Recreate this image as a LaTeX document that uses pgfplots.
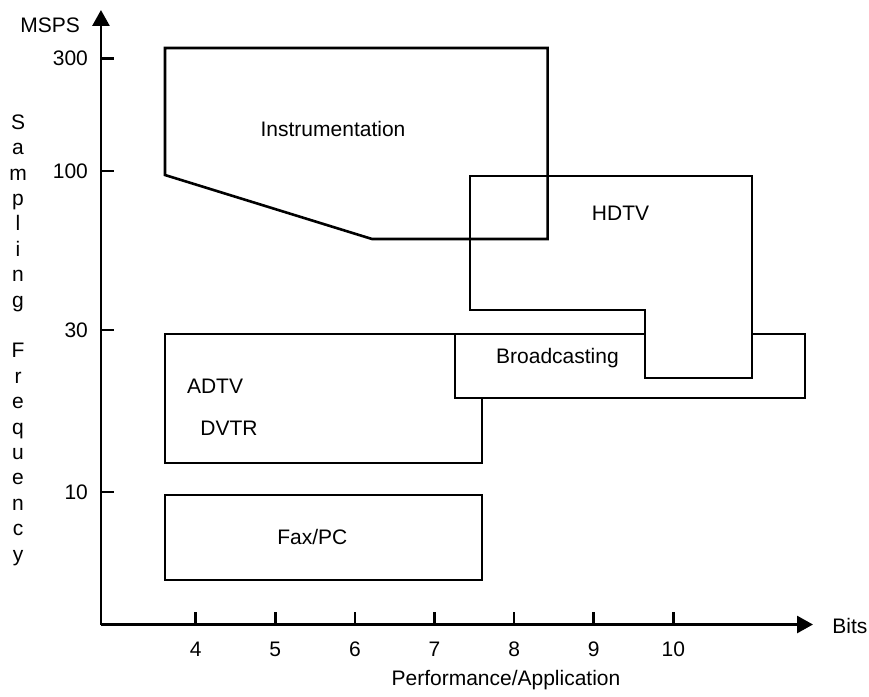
\documentclass[border=0pt]{standalone}
\usepackage{fontspec}
\setmainfont{Liberation Sans}
\usepackage{pgfplots}
\pgfplotsset{compat=1.18}
\usetikzlibrary{arrows.meta}

\begin{document}
\begin{tikzpicture}[font=\fontsize{10.5}{12.6}\selectfont,
  region/.style={black, line width=1.3pt, line join=miter, mark=none}]
\begin{axis}[
    x=39.8pt, y=0.5pt,
    xmin=2.81, xmax=11.755, ymin=0, ymax=614.5,
    axis x line=bottom, axis y line=left,
    axis line style={draw=none},
    xtick={4,...,10},
    ytick={132.5,294.5,453.5,566},
    yticklabels={10,30,100,300},
    xtick align=inside, ytick align=inside,
    major tick length=6.5pt,
    every tick/.style={black, line width=1.3pt},
    xticklabel style={yshift=-5pt},
    yticklabel style={xshift=-3pt},
    /pgf/number format/assume math mode=true,
    clip=false,
]
% axes with arrow heads
\draw[line width=1.4pt, -{Triangle[length=8pt,width=8.5pt]}]
  (axis cs:2.81,0) -- (axis cs:11.755,0);
\draw[line width=1.4pt, -{Triangle[length=8pt,width=8.5pt]}]
  (axis cs:2.81,0) -- (axis cs:2.81,614.5);

% Instrumentation
\addplot[region] coordinates {(3.614,576.5) (8.422,576.5) (8.422,385.5) (6.215,385.5) (3.614,449.5)} -- cycle;
% HDTV
\addplot[region] coordinates {(7.446,448.5) (10.989,448.5) (10.989,246.5) (9.645,246.5) (9.645,314.5) (7.446,314.5)} -- cycle;
% ADTV / DVTR (top edge runs on into Broadcasting)
\addplot[region] coordinates {(9.645,290.5) (3.614,290.5) (3.614,161.5) (7.597,161.5) (7.597,226.5)};
% Broadcasting
\addplot[region] coordinates {(7.258,290.5) (7.258,226.5) (11.655,226.5) (11.655,290.5) (10.989,290.5)};
% Fax/PC
\addplot[region] coordinates {(3.614,129.5) (7.597,129.5) (7.597,44.5) (3.614,44.5)} -- cycle;

\node[anchor=base] at (axis cs:5.725,488) {Instrumentation};
\node[anchor=base] at (axis cs:9.337,403.5) {HDTV};
\node[anchor=base] at (axis cs:8.545,261.5) {Broadcasting};
\node[anchor=base] at (axis cs:4.243,231.5) {ADTV};
\node[anchor=base] at (axis cs:4.418,189.5) {DVTR};
\node[anchor=base] at (axis cs:5.465,80.5) {Fax/PC};

\node[anchor=base] at (axis cs:2.170,591.5) {MSPS};
\node[anchor=base west, inner sep=0pt] at (axis cs:11.994,-8.5) {Bits};
\node[anchor=base] at (axis cs:7.898,-60.5) {Performance/Application};
\node[align=center, inner sep=0pt, font=\fontsize{10.5}{12.7}\selectfont]
  at (axis cs:1.768,284.5) {S\\a\\m\\p\\l\\i\\n\\g\\\mbox{}\\F\\r\\e\\q\\u\\e\\n\\c\\y};

\coordinate (bbsw) at (axis cs:1.5415,-71.5);
\coordinate (bbne) at (axis cs:12.4586,624.5);
\end{axis}
\pgfresetboundingbox
\path (bbsw) rectangle (bbne);
\end{tikzpicture}
\end{document}
